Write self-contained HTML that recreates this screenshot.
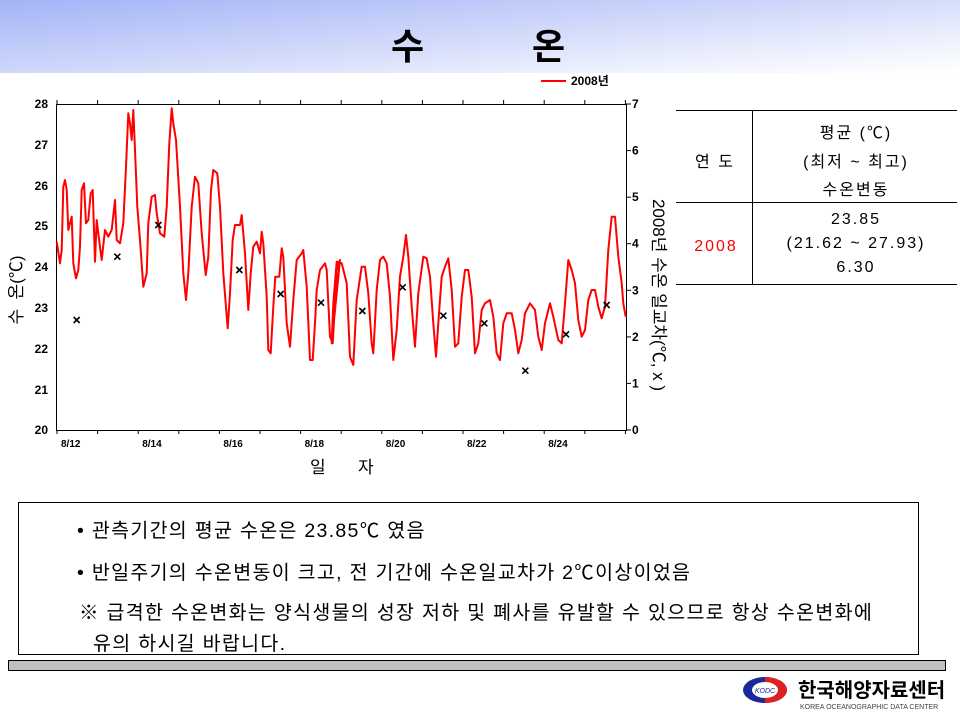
<!DOCTYPE html>
<html><head><meta charset="utf-8"><style>
body{margin:0;width:960px;height:720px;overflow:hidden;background:#fff;font-family:"Liberation Sans","Noto Sans CJK KR",sans-serif;position:relative}
.hdr{position:absolute;left:0;top:0;width:960px;height:73px;background:linear-gradient(175deg,#a3b3f7 0%,#cdd6fa 45%,#f4f6fe 85%,#fff 100%)}
.title{position:absolute;top:18px;font-size:36px;font-weight:bold;color:#000}
.box{position:absolute;left:18px;top:502px;width:899px;height:151px;border:1px solid #000;font-size:19.5px;letter-spacing:1.3px}
.box div{position:absolute;white-space:nowrap}
.bar{position:absolute;left:8px;top:660px;width:936px;height:9px;background:#c0c0c0;border:1px solid #000}
</style></head><body>
<div class="hdr"></div>
<div class="title" style="left:391px">수</div>
<div class="title" style="left:532px">온</div>
<svg width="960" height="720" style="position:absolute;left:0;top:0" font-family="Liberation Sans, Noto Sans CJK KR, sans-serif">
<line x1="541" y1="81" x2="566" y2="81" stroke="#f00" stroke-width="2"/>
<text x="571" y="85" font-size="12" font-weight="bold">2008년</text>
<rect x="56.5" y="104.5" width="570" height="326" fill="none" stroke="#000"/>
<g id="ticks" stroke="#000"></g>
<g id="labs" font-size="12" font-weight="bold"></g>
<text x="48" y="108" font-size="12" font-weight="bold" text-anchor="end">28</text>
<text x="48" y="149" font-size="12" font-weight="bold" text-anchor="end">27</text>
<text x="48" y="190" font-size="12" font-weight="bold" text-anchor="end">26</text>
<text x="48" y="230" font-size="12" font-weight="bold" text-anchor="end">25</text>
<text x="48" y="271" font-size="12" font-weight="bold" text-anchor="end">24</text>
<text x="48" y="312" font-size="12" font-weight="bold" text-anchor="end">23</text>
<text x="48" y="353" font-size="12" font-weight="bold" text-anchor="end">22</text>
<text x="48" y="394" font-size="12" font-weight="bold" text-anchor="end">21</text>
<text x="48" y="434" font-size="12" font-weight="bold" text-anchor="end">20</text>
<text x="22" y="290" font-size="17" transform="rotate(-90 22 290)" text-anchor="middle">수&nbsp;&nbsp;온(℃)</text>
<text x="653" y="295" font-size="17" transform="rotate(90 653 295)" text-anchor="middle">2008년 수온 일교차(℃, x )</text>
<text x="310" y="473" font-size="17">일</text><text x="358" y="473" font-size="17">자</text>
<polyline id="ln" fill="none" stroke="#f00" stroke-width="2" stroke-linejoin="round"/>
<g id="xs" stroke="#000" stroke-width="1.6"></g>
<line x1="676" y1="110.5" x2="957" y2="110.5" stroke="#000"/>
<line x1="676" y1="202.5" x2="957" y2="202.5" stroke="#000"/>
<line x1="676" y1="284.5" x2="957" y2="284.5" stroke="#000"/>
<line x1="752.5" y1="110" x2="752.5" y2="284" stroke="#000"/>
<g font-size="16" text-anchor="middle" letter-spacing="2">
<text x="715" y="167">연 도</text>
<text x="856" y="138">평균 (℃)</text>
<text x="856" y="167">(최저 ~ 최고)</text>
<text x="856" y="195">수온변동</text>
<text x="856" y="224">23.85</text>
<text x="856" y="248">(21.62 ~ 27.93)</text>
<text x="856" y="272">6.30</text>
<text x="716" y="251" fill="#f00">2008</text>
</g>
<ellipse cx="765" cy="690" rx="22" ry="13" fill="#1a2a9a"/>
<path d="M765 677 a22 13 0 0 1 22 13 a22 13 0 0 1 -22 13 z" fill="#e02020"/>
<ellipse cx="765" cy="690" rx="13" ry="8" fill="#fff"/>
<text x="765" y="693" font-size="7" text-anchor="middle" fill="#1a2a9a" font-style="italic">KODC</text>
<text x="798" y="697" font-size="20" font-weight="bold">한국해양자료센터</text>
<text x="800" y="709" font-size="7" fill="#444">KOREA OCEANOGRAPHIC DATA CENTER</text>
</svg>
<div class="box">
<div style="left:58px;top:11px">• 관측기간의 평균 수온은 23.85℃ 였음</div>
<div style="left:58px;top:53px">• 반일주기의 수온변동이 크고, 전 기간에 수온일교차가 2℃이상이었음</div>
<div style="left:60px;top:93px">※ 급격한 수온변화는 양식생물의 성장 저하 및 폐사를 유발할 수 있으므로 항상 수온변화에</div>
<div style="left:74px;top:124px">유의 하시길 바랍니다.</div>
</div>
<div class="bar"></div>
<script>
var z1=[170,455,180,520,185,480,190,290,195,270,200,300,205,420,210,400,215,380,220,520,228,565,235,540,240,470,245,300,252,280,258,400,265,390,272,310,278,300,285,515,290,390,296,440,305,510,315,420,325,440,335,420,345,330,350,450,360,460,370,400,378,230,385,70,390,100,395,150,400,60,405,180,412,350,420,450,430,590,440,550,445,400,455,320,465,315,470,370,480,430,493,440,500,350,508,160,515,55,520,100,528,150,540,350,550,550,558,630,565,550,575,350,585,260,595,280,605,430,617,555,625,500,633,300,640,240,652,250,660,350,670,550,683,715,690,610,698,450,705,405,720,405,725,375,735,490,745,660,752,550,760,470,770,455,780,490,785,425,790,460,800,620,805,780,812,790,820,650,826,560,838,560,845,475,850,500,860,700,870,770,880,630,890,510,905,490,910,480,920,590,930,810,938,810,945,700,950,600,960,540,975,520,980,540,990,740,998,760,1005,640,1010,540,1020,510];
var z2=[5,760,10,640,20,515,35,520,50,580,60,800,70,825,80,630,95,530,105,530,115,610,125,760,130,790,140,600,150,510,160,500,170,520,180,620,190,810,200,720,210,560,220,500,228,435,235,500,245,650,255,770,265,610,280,500,290,505,300,560,310,700,318,800,325,700,335,560,345,530,355,505,365,600,375,770,385,760,395,620,405,540,415,540,425,620,435,790,445,760,455,660,465,640,480,630,490,680,500,790,510,810,520,700,530,670,545,670,555,720,565,790,575,750,585,670,600,640,615,660,625,740,635,780,645,700,660,640,670,680,685,750,695,760,705,640,715,510,725,540,735,580,745,690,755,740,765,720,775,630,785,600,795,600,805,650,815,685,825,650,835,480,845,380,855,380,865,500,875,580,880,640,887,680];
var p=[];
for(var i=0;i<z1.length;i+=2)p.push((z1[i]/3).toFixed(1)+","+(90+z1[i+1]/3).toFixed(1));
for(var i=0;i<z2.length;i+=2)p.push((330+z2[i]/3).toFixed(1)+","+(90+z2[i+1]/3).toFixed(1));
document.getElementById("ln").setAttribute("points",p.join(" "));
var xs=[[230,690,0],[352,500,0],[475,405,0],[718,540,0],[842,612,0],[963,638,0],[97,663,1],[218,592,1],[340,677,1],[463,700,1],[586,842,1],[708,733,1],[830,645,1]],h="";
xs.forEach(function(m){var x=m[2]?330+m[0]/3:m[0]/3,y=90+m[1]/3;h+='<line x1="'+(x-3)+'" y1="'+(y-3)+'" x2="'+(x+3)+'" y2="'+(y+3)+'"/><line x1="'+(x-3)+'" y1="'+(y+3)+'" x2="'+(x+3)+'" y2="'+(y-3)+'"/>';});
document.getElementById("xs").innerHTML=h;
var t="",l="",names=["8/12","8/14","8/16","8/18","8/20","8/22","8/24"];
for(var d=0;d<=14;d++){var x=(57+d*40.6).toFixed(1);t+='<line x1="'+x+'" y1="104" x2="'+x+'" y2="100"/><line x1="'+x+'" y1="430" x2="'+x+'" y2="434"/>';if(d%2==0&&d<14)l+='<text x="'+(+x+4)+'" y="447" font-size="10">'+names[d/2]+'</text>';}
for(var k=0;k<=7;k++){var y=(430-k*46.57).toFixed(1);t+='<line x1="626" y1="'+y+'" x2="631" y2="'+y+'"/>';l+='<text x="632" y="'+(+y+4)+'">'+k+'</text>';}
document.getElementById("ticks").innerHTML=t;document.getElementById("labs").innerHTML=l;
</script>
</body></html>
